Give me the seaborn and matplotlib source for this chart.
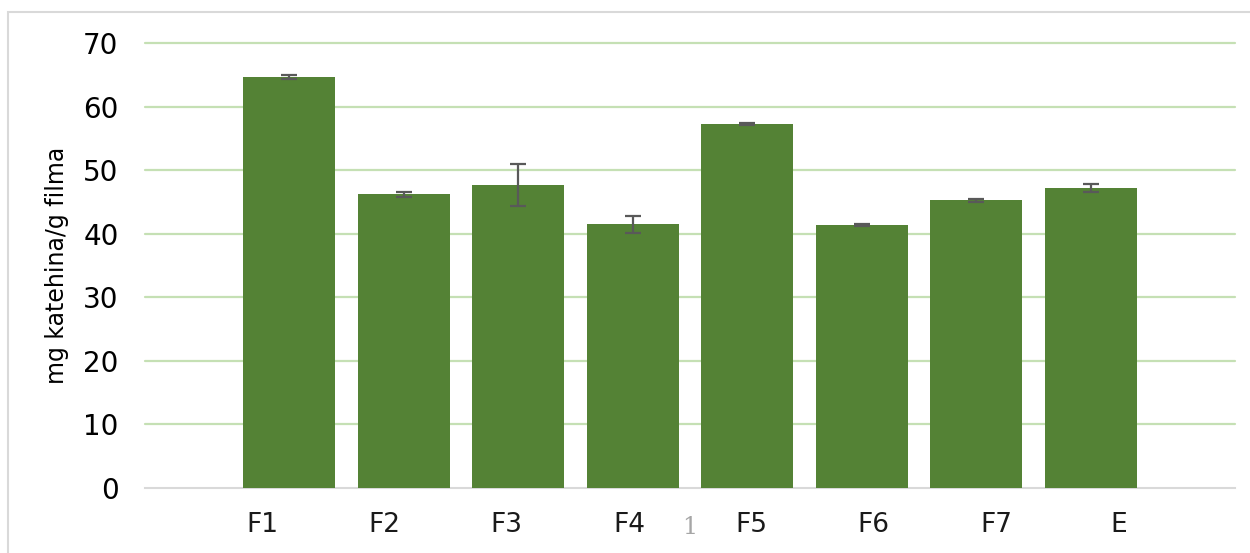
import pandas as pd
import seaborn as sns
import matplotlib.pyplot as plt
from matplotlib.patches import Rectangle
from matplotlib.transforms import blended_transform_factory

# Podaci s grafikona (procjena iz slike)
uzorci = ["F1", "F2", "F3", "F4", "F5", "F6", "F7", "E"]
vrijednosti = [64.7, 46.2, 47.7, 41.5, 57.3, 41.4, 45.3, 47.2]
greske = [0.35, 0.4, 3.35, 1.3, 0.2, 0.2, 0.25, 0.6]
y_oznake = [0, 10, 20, 30, 40, 50, 60, 70]

df = pd.DataFrame({"uzorak": uzorci, "mg": vrijednosti})

sns.set_style("white")
plt.rcParams["font.family"] = ["DejaVu Sans"]

fig = plt.figure(figsize=(12.5, 5.53), dpi=100)
ax = fig.add_axes([0.116, 0.1175, 0.872, 0.8045])

sns.barplot(data=df, x="uzorak", y="mg", color="#548235", width=0.8,
            saturation=1, errorbar=None, ax=ax, zorder=3, edgecolor="none")
ax.errorbar(range(len(uzorci)), vrijednosti, yerr=greske, fmt="none",
            ecolor="#595959", elinewidth=1.6, capsize=6, capthick=1.6, zorder=4)

ax.set_ylim(0, 70)
ax.set_xlim(-1.26, len(uzorci) - 1 + 1.26)
ax.set_yticks(y_oznake)
ax.set_yticklabels([str(v) for v in y_oznake], fontsize=20, color="black")
ax.tick_params(axis="y", length=0, pad=19)
for v in y_oznake[1:]:
    ax.axhline(v, color="#c5e0b4", lw=1.6, zorder=1, clip_on=False)

# oznake na x osi su malo razmaknute kao na originalu
ax.set_xticks([-0.236 + i * 1.068 for i in range(len(uzorci))])
ax.set_xticklabels(uzorci, fontsize=19, color="#1a1a1a")
ax.tick_params(axis="x", length=0, pad=17)
ax.set_xlabel("")
ax.set_ylabel("mg katehina/g filma", fontsize=17, labelpad=10, color="black")

for s in ["top", "right", "left"]:
    ax.spines[s].set_visible(False)
ax.spines["bottom"].set_color("#d9d9d9")
ax.spines["bottom"].set_linewidth(1.5)

trans = blended_transform_factory(ax.transData, ax.transAxes)
ax.text(3.5, -0.088, "1", transform=trans, fontsize=17, color="#a6a6a6",
        family="DejaVu Serif", ha="center", va="center")

fig.patches.append(Rectangle((8 / 1250, -0.1), 1.2, 1 - 12 / 553 + 0.1,
                             transform=fig.transFigure, fill=False,
                             edgecolor="#d9d9d9", lw=1.5))

fig.savefig("out.png", dpi=100)
